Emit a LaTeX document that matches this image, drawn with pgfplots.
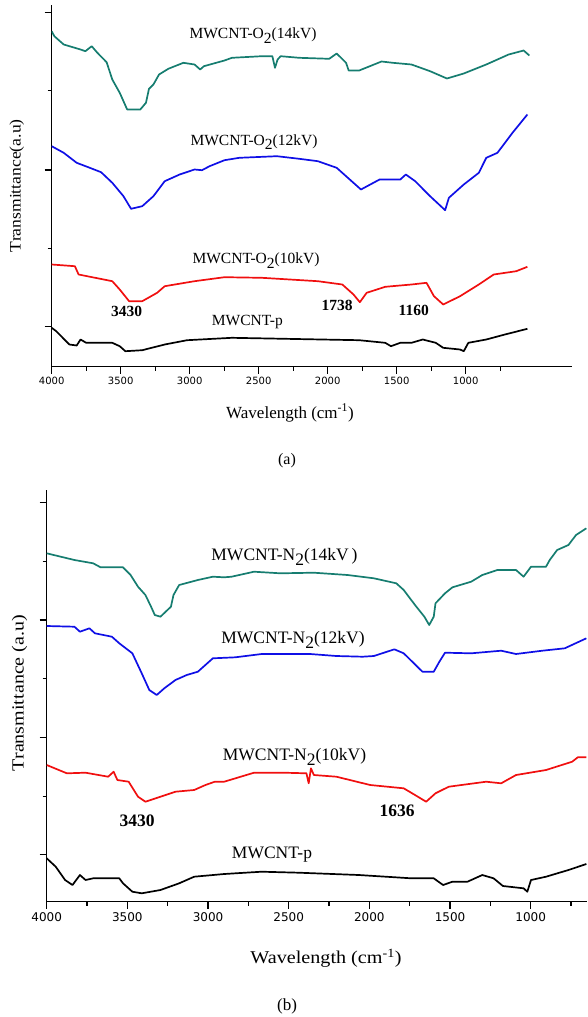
\documentclass[border=0pt]{standalone}
\usepackage{pgfplots}
\pgfplotsset{compat=1.18}
\usepackage{fontspec}
\setmainfont{Liberation Serif}
\newfontfamily\dejavu{DejaVu Sans}
\definecolor{cteal}{RGB}{22,125,112}
\definecolor{cblue}{RGB}{15,15,230}
\definecolor{cred}{RGB}{240,15,15}

% Panel (a): wavenumber (cm^-1) vs. transmittance (arbitrary, offset units)
\pgfplotstableread{
wn y
4000 335.3
3981 330.3
3913 322
3791 317
3756 315.3
3710 320.3
3669 313.7
3602 304.3
3561 287
3507 273.7
3453 257
3358 257
3317 263.7
3295 277.7
3263 282
3222 292
3155 297.7
3046 303.7
2965 302
2924 297
2897 300.3
2748 306
2694 308.7
2477 310.3
2401 310.3
2382 298.7
2363 307
2341 310.3
2206 308.7
1989 307.7
1935 313
1867 303.7
1848 296
1772 296
1610 305
1528 303.7
1393 302
1258 295.3
1136 288
1014 293
851 302
689 312
580 316
539 311
}\aFourteen
\pgfplotstableread{
wn y
4000 220.3
3913 213.7
3819 203.7
3724 198.7
3642 194.3
3561 183.7
3480 170.3
3425 157.7
3344 160.3
3263 170.3
3181 185.3
3073 192
2965 197
2911 196.3
2856 200.3
2748 206.3
2640 208.7
2368 210.3
2206 207.7
2071 205.3
1935 198.7
1854 188.7
1759 177
1624 187
1474 187
1434 192
1366 185.3
1258 170.3
1149 156.3
1122 168.7
1014 182
905 193.7
851 208.7
770 213.7
661 233.7
553 252
}\aTwelve
\pgfplotstableread{
wn y
4000 102
3832 100.3
3805 92
3561 85.3
3507 77
3439 65.3
3344 65.3
3236 73.7
3181 80.3
2965 85.3
2748 89.3
2477 88.7
2071 85.3
1894 82
1813 72
1767 64.3
1718 73.7
1583 79.7
1393 82
1284 83.7
1230 70.3
1163 62
1041 70.3
905 82
797 92
634 95.3
553 99.7
}\aTen
\pgfplotstableread{
wn y
4000 38.7
3967 35.3
3872 22
3819 21
3791 27
3750 23.7
3561 23.7
3507 20.3
3466 15.3
3344 16.3
3181 22
3019 26.3
2694 28.7
2423 28
2043 27
1772 26.3
1583 23.7
1542 20.3
1474 23.7
1393 23.7
1311 27
1217 23.7
1163 18.7
1041 17
1014 15.3
981 23.7
851 27
716 32
553 37.7
}\aP

% Panel (b)
\pgfplotstableread{
wn y
4000 348.4
3828 341.7
3712 338.4
3666 334.4
3527 334.4
3480 326.7
3434 315
3388 306.7
3353 295
3330 286.7
3295 285
3230 295
3214 306.7
3179 316.7
3063 321.7
2970 325
2900 324.4
2854 325
2715 330
2552 328.4
2344 329
2135 326.7
1972 323.4
1833 318.4
1787 311.7
1717 296.7
1659 285
1629 276.7
1601 285
1590 298.4
1531 308.4
1485 314.4
1369 320
1300 326.7
1207 331.7
1172 331.7
1125 331.7
1091 331.7
1044 325
1021 330
998 335
905 335
882 341.7
836 351.7
766 356.7
719 366.7
655 373.4
}\bFourteen
\pgfplotstableread{
wn y
4000 275.7
3828 275
3794 270
3735 273.4
3701 268.4
3596 265
3550 258.4
3469 248.4
3411 228.4
3364 211.7
3318 206.7
3271 213.4
3202 221.7
3132 226.7
3063 230
2970 243.4
2831 244.4
2668 247.7
2367 247.7
2204 245.7
2042 245
1972 245.7
1845 252.4
1787 248.4
1671 230
1601 230
1566 240
1531 249
1369 248.4
1183 251
1091 247.7
928 251
789 253.4
655 263.4
}\bTwelve
\pgfplotstableread{
wn y
4000 136.7
3875 128.4
3759 129
3619 125
3585 130
3562 121.7
3492 120
3434 105
3388 100
3295 105
3202 110
3086 111.7
3016 116.7
2958 120
2900 120
2715 129
2529 129
2390 128.4
2376 118.4
2362 133.4
2344 126.7
2204 125
1995 116.7
1787 113.4
1717 106.7
1648 100
1590 108.4
1508 115
1276 120
1183 118.4
1091 126.7
905 131.7
743 140
708 144.4
655 144.4
}\bTen
\pgfplotstableread{
wn y
4000 43.4
3944 35
3886 21.7
3840 16.7
3794 26.7
3759 21.7
3712 23.4
3550 23.4
3527 18.4
3469 10
3411 8.4
3295 11.7
3179 18.4
3086 25
2900 27.7
2668 30
2436 29
2065 26.7
1740 23.4
1601 23.4
1543 16.7
1485 20
1392 20
1300 26.7
1230 23.4
1172 15.7
1044 13.4
1021 10
998 21.7
905 25
766 31.7
655 37.7
}\bP

\pgfplotsset{
  ftir/.style={
    scale only axis,
    x dir=reverse,
    axis x line*=bottom,
    axis y line*=left,
    axis line style={-, line width=1.3pt},
    tick align=outside,
    tick style={line width=1.1pt, black},
    major tick length=7pt,
    minor tick length=4pt,
    xtick={4000,3500,3000,2500,2000,1500,1000},
    xticklabels={4000,3500,3000,2500,2000,1500,1000},
    minor xtick={3750,3250,2750,2250,1750,1250,750},
    yticklabels={},
    /pgf/number format/assume math mode=true,
    every axis plot/.append style={line width=1.7pt, mark=none, line join=round},
  }
}

\begin{document}
\begin{tikzpicture}
\path[use as bounding box] (0pt,0pt) rectangle (587pt,-1017pt);

% ---------- panel (a) ----------
\begin{axis}[ftir,
  at={(51.7pt,-366.5pt)}, anchor=south west,
  width=520pt, height=361.5pt,
  xmin=232, xmax=4000, ymin=0, ymax=361.5,
  ytick={39.8,196.5,353.8}, minor ytick={118.2,275.8},
  xticklabel style={font=\dejavu\fontsize{10}{12}\selectfont},
]
\addplot[cteal] table[x=wn,y=y] {\aFourteen};
\addplot[cblue] table[x=wn,y=y] {\aTwelve};
\addplot[cred] table[x=wn,y=y] {\aTen};
\addplot[black] table[x=wn,y=y] {\aP};
\end{axis}

\begin{scope}[every node/.style={inner sep=0pt}]
\node[anchor=base, font=\fontsize{15.5}{16}\selectfont] at (253pt,-38.5pt) {MWCNT-O\raisebox{-0.3em}{2}(14kV)};
\node[anchor=base, font=\fontsize{15.5}{16}\selectfont] at (254pt,-145pt) {MWCNT-O\raisebox{-0.3em}{2}(12kV)};
\node[anchor=base, font=\fontsize{15.5}{16}\selectfont] at (256pt,-263.5pt) {MWCNT-O\raisebox{-0.3em}{2}(10kV)};
\node[anchor=base, font=\fontsize{15.5}{16}\selectfont] at (247.4pt,-325pt) {MWCNT-p};
\node[anchor=base, font=\bfseries\fontsize{15.5}{16}\selectfont] at (126.7pt,-316.7pt) {3430};
\node[anchor=base, font=\bfseries\fontsize{15.5}{16}\selectfont] at (337pt,-310pt) {1738};
\node[anchor=base, font=\bfseries\fontsize{15.5}{16}\selectfont] at (413.7pt,-315pt) {1160};
\node[font=\fontsize{17}{18}\selectfont] at (290pt,-413pt) {Wavelength (cm\textsuperscript{-1})};
\node[font=\fontsize{16}{17}\selectfont] at (287pt,-461pt) {(a)};
\node[rotate=90, font=\fontsize{16}{17}\selectfont] at (16.9pt,-185.7pt) {\scalebox{1.1}[1]{Transmittance(a.u)}};
\end{scope}

% ---------- panel (b) ----------
\begin{axis}[ftir,
  at={(46.7pt,-901.7pt)}, anchor=south west,
  width=540.3pt, height=411.7pt,
  xmin=651, xmax=4000, ymin=0, ymax=411.7,
  ytick={47.4,164.4,281.7,399.4}, minor ytick={105,223.4,340},
  xticklabel style={font=\dejavu\fontsize{12}{14}\selectfont},
]
\addplot[cteal] table[x=wn,y=y] {\bFourteen};
\addplot[cblue] table[x=wn,y=y] {\bTwelve};
\addplot[cred] table[x=wn,y=y] {\bTen};
\addplot[black] table[x=wn,y=y] {\bP};
\end{axis}

\begin{scope}[every node/.style={inner sep=0pt}]
\node[anchor=base, font=\fontsize{17.5}{18}\selectfont] at (284.5pt,-560pt) {MWCNT-N\raisebox{-0.3em}{2}(14kV\,)};
\node[anchor=base, font=\fontsize{17.5}{18}\selectfont] at (293pt,-643pt) {MWCNT-N\raisebox{-0.3em}{2}(12kV)};
\node[anchor=base, font=\fontsize{17.5}{18}\selectfont] at (294.5pt,-760pt) {MWCNT-N\raisebox{-0.3em}{2}(10kV)};
\node[anchor=base, font=\fontsize{17.5}{18}\selectfont] at (272pt,-858pt) {MWCNT-p};
\node[anchor=base, font=\bfseries\fontsize{17.5}{18}\selectfont] at (137pt,-826pt) {3430};
\node[anchor=base, font=\bfseries\fontsize{17.5}{18}\selectfont] at (397pt,-816.7pt) {1636};
\node[font=\fontsize{18}{19}\selectfont] at (326pt,-958pt) {\scalebox{1.12}[1]{Wavelength (cm\textsuperscript{-1})}};
\node[font=\fontsize{17}{18}\selectfont] at (287pt,-1006pt) {(b)};
\node[rotate=90, font=\fontsize{17}{18}\selectfont] at (19.6pt,-693pt) {\scalebox{1.18}[1]{Transmittance (a.u)}};
\end{scope}
\end{tikzpicture}
\end{document}
